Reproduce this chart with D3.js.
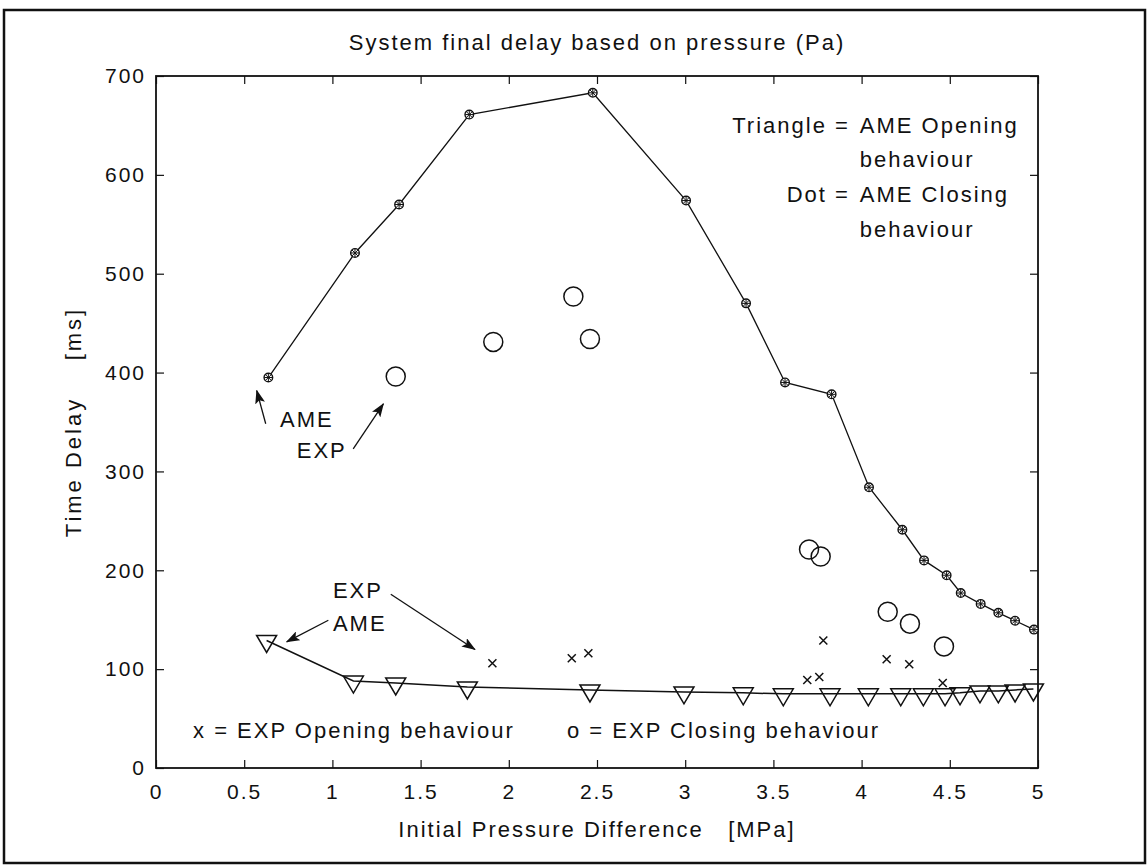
<!DOCTYPE html>
<html>
<head>
<meta charset="utf-8">
<script src="https://cdn.jsdelivr.net/npm/d3@7"></script>
<style>
  html, body { margin: 0; padding: 0; background: #fff; }
  svg { display: block; }
  text { font-family: Arial, "Liberation Sans", Helvetica, sans-serif; fill: #111; }
</style>
</head>
<body>
<svg id="chart" width="1148" height="868"></svg>
<script>
// ---------------- DATA ----------------
const titleText = "System final delay based on pressure (Pa)";
const xLabelText = "Initial Pressure Difference\u00a0\u00a0\u00a0[MPa]";
const yLabelText = "Time Delay\u00a0\u00a0\u00a0\u00a0[ms]";

const xTickValues = [0, 0.5, 1, 1.5, 2, 2.5, 3, 3.5, 4, 4.5, 5];
const xTickLabels = ["0", "0.5", "1", "1.5", "2", "2.5", "3", "3.5", "4", "4.5", "5"];
const yTickValues = [0, 100, 200, 300, 400, 500, 600, 700];
const yTickLabels = ["0", "100", "200", "300", "400", "500", "600", "700"];

// AME closing behaviour ("Dot"), line + marker
const ameCloseX = [0.637, 1.128, 1.378, 1.776, 2.476, 3.005, 3.345, 3.566, 3.830, 4.042, 4.231, 4.354, 4.482, 4.562, 4.675, 4.775, 4.870, 4.977];
const ameCloseY = [395, 521, 570, 661, 683, 574, 470, 390, 378, 284, 241, 210, 195, 177, 166, 157, 149, 140];

// AME opening behaviour ("Triangle"), line + triangle
const ameOpenX = [0.627, 1.119, 1.359, 1.765, 2.460, 2.993, 3.329, 3.556, 3.821, 4.038, 4.222, 4.350, 4.473, 4.558, 4.671, 4.775, 4.870, 4.974];
const ameOpenY = [129, 88, 86, 82, 79, 77, 76, 75, 75, 75, 75, 75, 75, 76, 78, 78, 79, 80];

// EXP opening behaviour (x)
const expOpenX = [1.907, 2.357, 2.451, 3.692, 3.760, 3.783, 4.142, 4.270, 4.460];
const expOpenY = [106, 111, 116, 89, 92, 129, 110, 105, 86];

// EXP closing behaviour (o)
const expCloseX = [1.359, 1.912, 2.366, 2.460, 3.702, 3.768, 4.148, 4.274, 4.467];
const expCloseY = [396, 431, 477, 434, 221, 214, 158, 146, 123];

// annotation texts (positions in data units)
const noteTexts = ["AME", "EXP", "EXP", "AME", "x = EXP Opening behaviour", "o = EXP Closing behaviour"];
const noteX = [0.703, 0.798, 1.003, 1.003, 0.21, 2.33];
const noteY = [344.7, 314, 171.7, 138.7, 30.6, 30.6];

const arrowFromX = [0.622, 1.118, 1.331, 0.977];
const arrowFromY = [348.2, 322.9, 175.8, 149.5];
const arrowToX = [0.571, 1.289, 1.808, 0.741];
const arrowToY = [381.8, 368.4, 119.9, 127.6];

const legendLeft = ["Triangle =", "", "Dot =", ""];
const legendRight = ["AME Opening", "behaviour", "AME Closing", "behaviour"];
const legendY = [642.4, 608, 572.7, 537.4];
const legendSplitX = 3.99;

// ---------------- CHART ----------------
const svg = d3.select("#chart");
const x = d3.scaleLinear().domain([0, 5]).range([156, 1038]);
const y = d3.scaleLinear().domain([0, 700]).range([768, 76]);
const FS = 22, LS = 2;

// outer frame
svg.append("rect").attr("x", 4).attr("y", 10).attr("width", 1141).attr("height", 853)
  .attr("fill", "none").attr("stroke", "#111").attr("stroke-width", 2.5);

// title
svg.append("text").attr("x", (x(0) + x(5)) / 2).attr("y", 50)
  .attr("text-anchor", "middle").attr("font-size", 22).attr("letter-spacing", LS)
  .text(titleText);

// axes
const xAxisB = d3.axisBottom(x).tickValues(xTickValues)
  .tickFormat((d, i) => xTickLabels[i]).tickSizeInner(-8).tickSizeOuter(0).tickPadding(16);
const xAxisT = d3.axisTop(x).tickValues(xTickValues).tickFormat("").tickSizeInner(-8).tickSizeOuter(0);
const yAxisL = d3.axisLeft(y).tickValues(yTickValues)
  .tickFormat((d, i) => yTickLabels[i]).tickSizeInner(-8).tickSizeOuter(0).tickPadding(10);
const yAxisR = d3.axisRight(y).tickValues(yTickValues).tickFormat("").tickSizeInner(-8).tickSizeOuter(0);

function styleAxis(g) {
  g.select(".domain").remove();
  g.selectAll(".tick line").attr("stroke", "#111").attr("stroke-width", 1.2);
  g.selectAll(".tick text").attr("font-size", 21).attr("letter-spacing", LS)
    .attr("fill", "#111").attr("font-family", "Arial, 'Liberation Sans', sans-serif");
}
svg.append("g").attr("transform", `translate(0,${y(0)})`).call(xAxisB).call(styleAxis);
svg.append("g").attr("transform", `translate(0,${y(700)})`).call(xAxisT).call(styleAxis);
svg.append("g").attr("transform", `translate(${x(0)},0)`).call(yAxisL).call(styleAxis);
svg.append("g").attr("transform", `translate(${x(5)},0)`).call(yAxisR).call(styleAxis);

// plot box
svg.append("rect").attr("x", x(0)).attr("y", y(700))
  .attr("width", x(5) - x(0)).attr("height", y(0) - y(700))
  .attr("fill", "none").attr("stroke", "#111").attr("stroke-width", 1.8);

// axis labels
svg.append("text").attr("x", (x(0) + x(5)) / 2).attr("y", 837)
  .attr("text-anchor", "middle").attr("font-size", FS).attr("letter-spacing", LS)
  .text(xLabelText);
svg.append("text").attr("transform", `translate(81,${(y(0) + y(700)) / 2}) rotate(-90)`)
  .attr("text-anchor", "middle").attr("font-size", FS).attr("letter-spacing", 3)
  .text(yLabelText);

const line = d3.line().x(d => x(d[0])).y(d => y(d[1]));

// AME closing line + markers
const ameClose = ameCloseX.map((v, i) => [v, ameCloseY[i]]);
svg.append("path").attr("d", line(ameClose)).attr("fill", "none")
  .attr("stroke", "#111").attr("stroke-width", 1.3);
const dots = svg.append("g").selectAll("g").data(ameClose).join("g")
  .attr("transform", d => `translate(${x(d[0])},${y(d[1])})`);
dots.append("circle").attr("r", 4.3).attr("fill", "#fff").attr("stroke", "#111").attr("stroke-width", 1.4);
dots.append("path").attr("d", "M-4,0H4M0,-4V4M-3,-3L3,3M-3,3L3,-3")
  .attr("stroke", "#111").attr("stroke-width", 1);

// AME opening line + triangles
const ameOpen = ameOpenX.map((v, i) => [v, ameOpenY[i]]);
svg.append("path").attr("d", line(ameOpen)).attr("fill", "none")
  .attr("stroke", "#111").attr("stroke-width", 1.5);
svg.append("g").selectAll("path").data(ameOpen).join("path")
  .attr("transform", d => `translate(${x(d[0])},${y(d[1])})`)
  .attr("d", "M-10,-5L10,-5L0,12Z")
  .attr("fill", "none").attr("stroke", "#111").attr("stroke-width", 1.5);

// EXP opening x markers
const expOpen = expOpenX.map((v, i) => [v, expOpenY[i]]);
svg.append("g").selectAll("path").data(expOpen).join("path")
  .attr("transform", d => `translate(${x(d[0])},${y(d[1])})`)
  .attr("d", "M-4,-4L4,4M-4,4L4,-4")
  .attr("stroke", "#111").attr("stroke-width", 1.5);

// EXP closing o markers
const expClose = expCloseX.map((v, i) => [v, expCloseY[i]]);
svg.append("g").selectAll("circle").data(expClose).join("circle")
  .attr("cx", d => x(d[0])).attr("cy", d => y(d[1])).attr("r", 9.5)
  .attr("fill", "none").attr("stroke", "#111").attr("stroke-width", 1.5);

// annotations
svg.append("defs").append("marker").attr("id", "ah")
  .attr("viewBox", "0 0 14 10").attr("refX", 13).attr("refY", 5)
  .attr("markerWidth", 14).attr("markerHeight", 10).attr("markerUnits", "userSpaceOnUse")
  .attr("orient", "auto")
  .append("path").attr("d", "M0,0L14,5L0,10L3,5Z").attr("fill", "#111");

noteTexts.forEach((t, i) => {
  svg.append("text").attr("x", x(noteX[i])).attr("y", y(noteY[i]))
    .attr("font-size", FS).attr("letter-spacing", LS).style("white-space", "pre").text(t);
});
arrowFromX.forEach((v, i) => {
  svg.append("line").attr("x1", x(v)).attr("y1", y(arrowFromY[i]))
    .attr("x2", x(arrowToX[i])).attr("y2", y(arrowToY[i]))
    .attr("stroke", "#111").attr("stroke-width", 1.3).attr("marker-end", "url(#ah)");
});

legendY.forEach((v, i) => {
  if (legendLeft[i]) {
    svg.append("text").attr("x", x(legendSplitX) - 10).attr("y", y(v))
      .attr("text-anchor", "end").attr("font-size", FS).attr("letter-spacing", LS).text(legendLeft[i]);
  }
  svg.append("text").attr("x", x(legendSplitX)).attr("y", y(v))
    .attr("font-size", FS).attr("letter-spacing", LS).text(legendRight[i]);
});
</script>
</body>
</html>
